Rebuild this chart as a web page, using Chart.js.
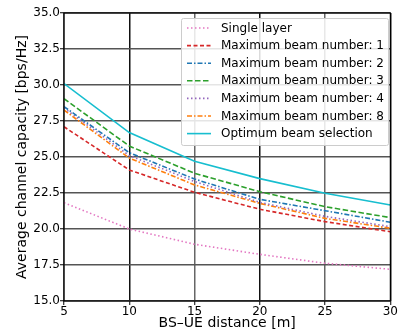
<!DOCTYPE html>
<html>
<head>
    <title>Channel capacity</title>
    <script src="https://cdn.jsdelivr.net/npm/chart.js"></script>
    <style>
        html, body { margin: 0; padding: 0; background: #fff; }
        #wrap { width: 398px; height: 333px; }
    </style>
</head>
<body>
    <div id="wrap"><canvas id="capChart" width="398" height="333"></canvas></div>

    <script>
        // distances [m]
        const distances = [5, 10, 15, 20, 25, 30];
        const yTicks = [15, 17.5, 20, 22.5, 25, 27.5, 30, 32.5, 35];

        const singleLayer = [21.83, 20.0, 18.94, 18.24, 17.62, 17.2];
        const beam1 = [27.1, 24.1, 22.55, 21.37, 20.51, 19.81];
        const beam2 = [28.5, 25.3, 23.47, 22.06, 21.27, 20.47];
        const beam3 = [29.05, 25.76, 23.87, 22.59, 21.55, 20.79];
        const beam4 = [28.4, 25.1, 23.3, 21.85, 20.88, 20.16];
        const beam8 = [28.26, 24.93, 23.06, 21.78, 20.74, 20.05];
        const optimum = [30.1, 26.7, 24.7, 23.5, 22.48, 21.67];

        const FONT = "'DejaVu Sans', sans-serif";

        function series(label, values, color, dash) {
            return {
                label: label,
                data: values,
                borderColor: color,
                backgroundColor: color,
                borderWidth: 1.6,
                borderDash: dash,
                pointRadius: 0,
                tension: 0,
                fill: false
            };
        }

        const datasets = [
            series('Single layer', singleLayer, '#e377c2', [1.5, 2.5]),
            series('Maximum beam number: 1', beam1, '#d62728', [4, 2.5]),
            series('Maximum beam number: 2', beam2, '#1f77b4', [5, 2, 1.5, 2]),
            series('Maximum beam number: 3', beam3, '#2ca02c', [5.5, 2.5]),
            series('Maximum beam number: 4', beam4, '#9467bd', [1.5, 2.5]),
            series('Maximum beam number: 8', beam8, '#ff7f0e', [5, 2, 1.5, 2]),
            series('Optimum beam selection', optimum, '#17becf', [])
        ];

        // full frame around the plot area
        const framePlugin = {
            id: 'frame',
            afterDatasetsDraw(chart) {
                const a = chart.chartArea;
                const ctx = chart.ctx;
                ctx.save();
                ctx.strokeStyle = '#000';
                ctx.lineWidth = 1.2;
                ctx.strokeRect(a.left, a.top, a.right - a.left, a.bottom - a.top);
                ctx.restore();
            }
        };

        // legend in the upper right of the plot area
        const legendPlugin = {
            id: 'boxLegend',
            afterDatasetsDraw(chart) {
                const ctx = chart.ctx;
                const x0 = 181, y0 = 18, w = 207, h = 127;
                ctx.save();
                ctx.fillStyle = 'rgba(255,255,255,0.85)';
                ctx.strokeStyle = '#cccccc';
                ctx.lineWidth = 1;
                ctx.beginPath();
                ctx.roundRect(x0 + 0.5, y0 + 0.5, w, h, 2);
                ctx.fill();
                ctx.stroke();
                ctx.font = '12px ' + FONT;
                ctx.textBaseline = 'middle';
                chart.data.datasets.forEach((ds, i) => {
                    const yy = y0 + 10 + i * 17.6;
                    ctx.strokeStyle = ds.borderColor;
                    ctx.lineWidth = 1.6;
                    ctx.setLineDash(ds.borderDash);
                    ctx.beginPath();
                    ctx.moveTo(x0 + 6, yy);
                    ctx.lineTo(x0 + 30, yy);
                    ctx.stroke();
                    ctx.setLineDash([]);
                    ctx.fillStyle = '#000';
                    ctx.fillText(ds.label, x0 + 40, yy + 0.5);
                });
                ctx.restore();
            }
        };

        function gridColor(c) {
            return c.index % 2 === 1 ? '#111' : '#666';
        }

        const chart = new Chart(document.getElementById('capChart'), {
            type: 'line',
            data: { labels: distances, datasets: datasets },
            options: {
                responsive: false,
                animation: false,
                layout: { padding: { top: 13, right: 6, left: 0, bottom: 0 } },
                plugins: {
                    legend: { display: false },
                    tooltip: { enabled: false }
                },
                scales: {
                    x: {
                        type: 'linear',
                        min: 5,
                        max: 30,
                        afterBuildTicks(axis) {
                            axis.ticks = distances.map(v => ({ value: v }));
                        },
                        afterFit(axis) { axis.height = 32; },
                        grid: {
                            color: gridColor,
                            lineWidth: 1.5,
                            tickLength: 4,
                            tickColor: '#000',
                            tickWidth: 1
                        },
                        border: { display: false },
                        ticks: {
                            color: '#000',
                            font: { family: FONT, size: 12 },
                            padding: 0,
                            maxRotation: 0
                        },
                        title: {
                            display: true,
                            text: 'BS\u2013UE distance [m]',
                            color: '#000',
                            font: { family: FONT, size: 14 },
                            padding: { top: 0, bottom: 1 }
                        }
                    },
                    y: {
                        min: 15,
                        max: 35,
                        afterBuildTicks(axis) {
                            axis.ticks = yTicks.map(v => ({ value: v }));
                        },
                        afterFit(axis) { axis.width = 64; },
                        grid: {
                            color: '#555',
                            lineWidth: 1.5,
                            tickLength: 4,
                            tickColor: '#000',
                            tickWidth: 1
                        },
                        border: { display: false },
                        ticks: {
                            color: '#000',
                            font: { family: FONT, size: 12 },
                            padding: 0,
                            callback: v => Number(v).toFixed(1)
                        },
                        title: {
                            display: true,
                            text: 'Average channel capacity [bps/Hz]',
                            color: '#000',
                            font: { family: FONT, size: 14 },
                            padding: { top: 14, bottom: 0 }
                        }
                    }
                }
            },
            plugins: [framePlugin, legendPlugin]
        });
    </script>
</body>
</html>
